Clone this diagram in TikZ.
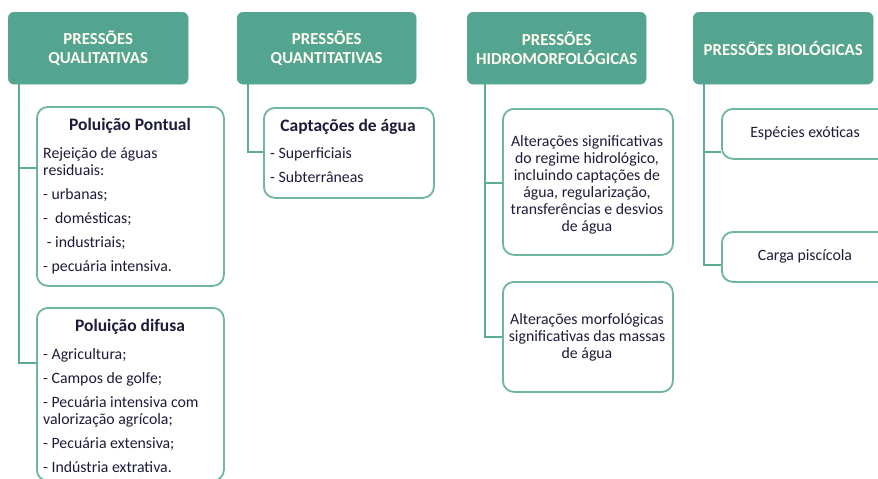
\documentclass[tikz,border=0pt]{standalone}
\usepackage{fontspec}
\setmainfont{Carlito}
\definecolor{teal1}{RGB}{83,165,146}
\definecolor{tealline}{RGB}{90,170,150}
\definecolor{boxline}{RGB}{110,182,162}
\definecolor{headtxt}{RGB}{255,252,238}
\definecolor{bodytxt}{RGB}{28,28,58}
\tikzset{
  x=1pt, y=-1pt,
  header/.style={fill=teal1, draw=teal1, rounded corners=6pt, inner sep=0pt,
    text=headtxt, font=\fontsize{16.8}{18.5}\selectfont\bfseries, align=center},
  itembox/.style={draw=boxline, line width=1.8pt, rounded corners=11pt, fill=white, inner sep=0pt},
  conn/.style={draw=tealline, line width=2pt},
  body/.style={text=bodytxt, inner sep=0pt, font=\fontsize{15.8}{17}\selectfont},
  ttl/.style={font=\fontsize{17.5}{19}\selectfont\bfseries}
}
\begin{document}
\begin{tikzpicture}
\useasboundingbox (0,0) rectangle (878,479);
\clip (0,0) rectangle (878,479);

% headers
\node[header, minimum width=180pt, minimum height=72pt, anchor=north west] (h1) at (8,12) {PRESSÕES\\QUALITATIVAS};
\node[header, minimum width=179pt, minimum height=72pt, anchor=north west] (h2) at (237,12) {PRESSÕES\\QUANTITATIVAS};
\node[header, minimum width=179pt, minimum height=72pt, anchor=north west] (h3) at (467,12) {PRESSÕES\\HIDROMORFOLÓGICAS};
\node[header, minimum width=180pt, minimum height=72pt, anchor=north west] (h4) at (693,12) {PRESSÕES BIOLÓGICAS};

% connector anchor points
\coordinate (c1top) at (19,84);
\coordinate (c1a) at (19,168);
\coordinate (c1b) at (19,363);
\coordinate (c2top) at (248,84);
\coordinate (c2a) at (248,152);
\coordinate (c3top) at (485,84);
\coordinate (c3a) at (485,183);
\coordinate (c3b) at (485,337);
\coordinate (c4top) at (704,84);
\coordinate (c4a) at (704,152);
\coordinate (c4b) at (704,265);

% boxes
\node[itembox, minimum width=187pt, minimum height=179pt, anchor=north west] (pp) at (36,106) {};
\node[itembox, minimum width=187pt, minimum height=173pt, anchor=north west] (pd) at (36,307) {};
\node[itembox, minimum width=170pt, minimum height=90pt, anchor=north west] (ca) at (263,107) {};
\node[itembox, minimum width=170pt, minimum height=146pt, anchor=north west] (a1) at (502,108) {};
\node[itembox, minimum width=170pt, minimum height=110pt, anchor=north west] (a2) at (502,281) {};
\node[itembox, minimum width=180pt, minimum height=50pt, anchor=north west] (ee) at (721,108) {};
\node[itembox, minimum width=180pt, minimum height=50pt, anchor=north west] (cp) at (721,231) {};

% connectors
\draw[conn] (h1.south -| c1top) -- (c1b) -- (c1b -| pd.west);
\draw[conn] (c1a) -- (c1a -| pp.west);
\draw[conn] (h2.south -| c2top) -- (c2a) -- (c2a -| ca.west);
\draw[conn] (h3.south -| c3top) -- (c3b) -- (c3b -| a2.west);
\draw[conn] (c3a) -- (c3a -| a1.west);
\draw[conn] (h4.south -| c4top) -- (c4b) -- (c4b -| cp.west);
\draw[conn] (c4a) -- (c4a -| ee.west);

% texts
\node[body, ttl, anchor=center] (ppt) at (130,126) {Poluição Pontual};
\node[body, align=left, anchor=north west] (ppb) at (43,147)
  {Rejeição de águas\\residuais:\\[7pt]- urbanas;\\[7pt]-\ \ domésticas;\\[7pt]\ - industriais;\\[7pt]- pecuária intensiva.};

\node[body, ttl, anchor=center] (pdt) at (130,327) {Poluição difusa};
\node[body, align=left, anchor=north west] (pdb) at (43,348)
  {- Agricultura;\\[7pt]- Campos de golfe;\\[7pt]- Pecuária intensiva com\\valorização agrícola;\\[7pt]- Pecuária extensiva;\\[7pt]- Indústria extrativa.};

\node[body, ttl, anchor=center] (cat) at (348,127) {Captações de água};
\node[body, align=left, anchor=north west] (cab) at (270,147)
  {- Superficiais\\[7pt]- Subterrâneas};

\node[body, align=center, anchor=center] (a1t) at (587,185)
  {Alterações significativas\\do regime hidrológico,\\incluindo captações de\\água, regularização,\\transferências e desvios\\de água};
\node[body, align=center, anchor=center] (a2t) at (587,337)
  {Alterações morfológicas\\significativas das massas\\de água};

\node[body, anchor=center] (eet) at (805,133) {Espécies exóticas};
\node[body, anchor=center] (cpt) at (805,256) {Carga piscícola};
\end{tikzpicture}
\end{document}
